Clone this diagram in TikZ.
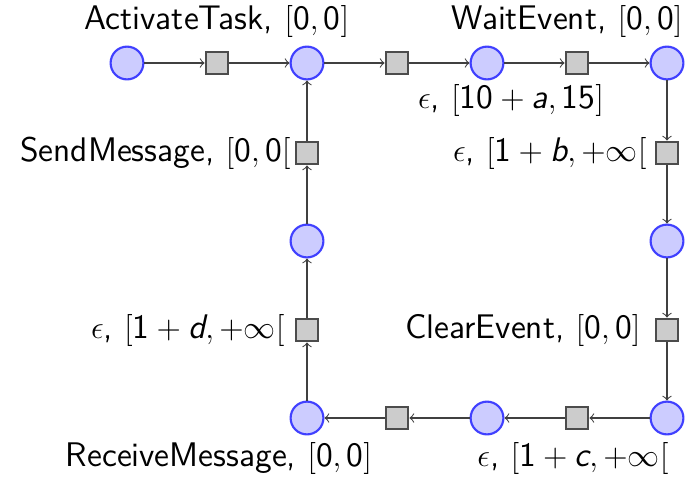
\documentclass[tikz,border=0pt]{standalone}
\usepackage{amsmath}
\begin{document}
\begin{tikzpicture}[x=0.375pt,y=-0.375pt,
  place/.style={circle,draw=blue!75,fill=blue!20,line width=0.8pt,minimum size=12.3pt,inner sep=0pt},
  trans/.style={rectangle,draw=black!70,fill=black!20,line width=0.9pt,minimum size=8.4pt,inner sep=0pt},
  lbl/.style={font=\sffamily\fontsize{12.8}{15}\selectfont,inner sep=0pt},
  arc/.style={->,draw=black!75,line width=0.4pt}]
\useasboundingbox (0,0) rectangle (689,477);
\node[place] (p1) at (127,63) {};
\node[trans] (t1) at (217,63) {};
\node[place] (p2) at (307,63) {};
\node[trans] (t2) at (397,63) {};
\node[place] (p3) at (487,63) {};
\node[trans] (t3) at (577,63) {};
\node[place] (p4) at (667,63) {};
\node[trans] (t4) at (667,153) {};
\node[place] (p5) at (667,241) {};
\node[trans] (t5) at (667,330) {};
\node[place] (p6) at (667,418) {};
\node[trans] (t6) at (577,418) {};
\node[place] (p7) at (487,418) {};
\node[trans] (t7) at (397,418) {};
\node[place] (p8) at (307,418) {};
\node[trans] (t8) at (307,330) {};
\node[place] (p9) at (307,241) {};
\node[trans] (t9) at (307,153) {};
\foreach \a/\b in {p1/t1,t1/p2,p2/t2,t2/p3,p3/t3,t3/p4,p4/t4,t4/p5,p5/t5,t5/p6,p6/t6,t6/p7,p7/t7,t7/p8,p8/t8,t8/p9,p9/t9,t9/p2}
  \draw[arc] (\a) -- (\b);
\node[lbl] (l1) at (217,21) {ActivateTask, $[\text{0},\text{0}]$};
\node[lbl] (l2) at (511,100) {$\epsilon$, $[\text{10}+\text{\slshape a},\text{15}]$};
\node[lbl] (l3) at (567,21) {WaitEvent, $[\text{0},\text{0}]$};
\node[lbl,anchor=east] (l4) at (291,153) {SendMessage, $[\text{0},\text{0}[$};
\node[lbl,anchor=east] (l5) at (647,153) {$\epsilon$, $[\text{1}+\text{\slshape b},+\infty[$};
\node[lbl,anchor=east] (l6) at (641,330) {ClearEvent, $[\text{0},\text{0}]$};
\node[lbl,anchor=east] (l7) at (285,330) {$\epsilon$, $[\text{1}+\text{\slshape d},+\infty[$};
\node[lbl] (l8) at (219,458) {ReceiveMessage, $[\text{0},\text{0}]$};
\node[lbl] (l9) at (573,458) {$\epsilon$, $[\text{1}+\text{\slshape c},+\infty[$};
\end{tikzpicture}
\end{document}
